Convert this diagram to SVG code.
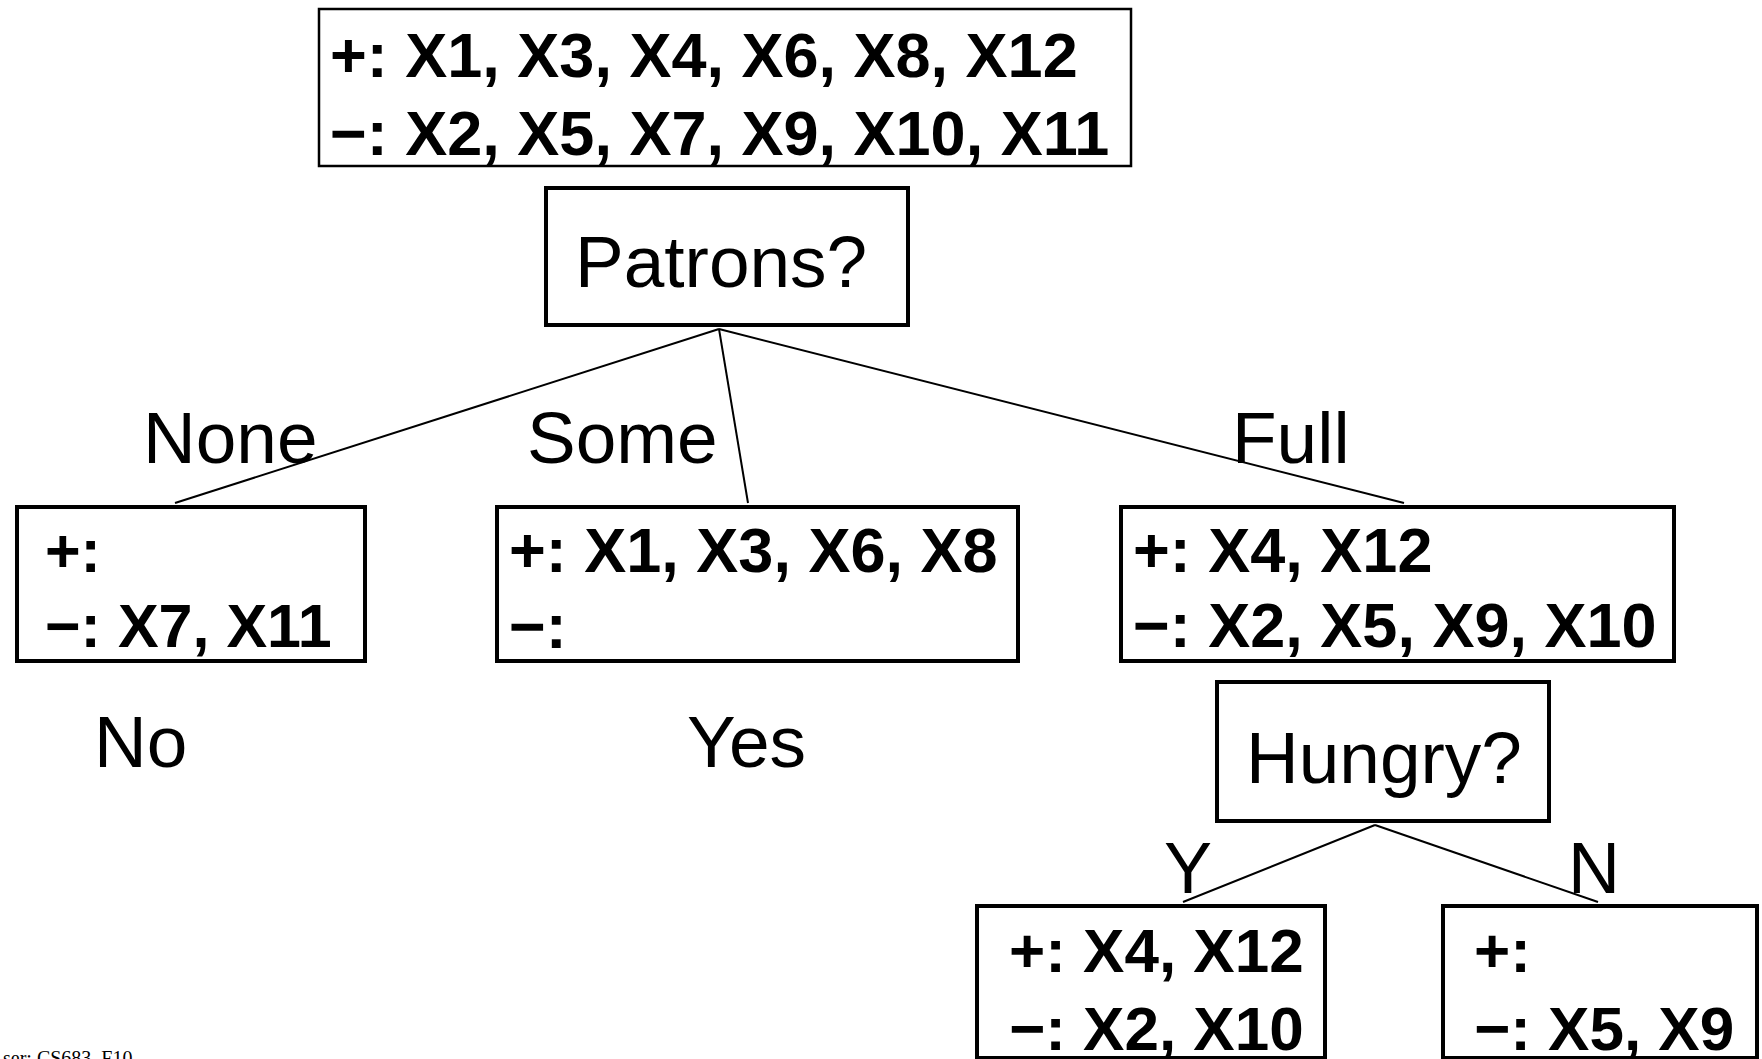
<svg xmlns="http://www.w3.org/2000/svg" width="1762" height="1059" viewBox="0 0 1762 1059">
<style>
.box{fill:#fff;stroke:#000;stroke-width:4}
.thin{stroke-width:2.5}
.set{font-family:"Liberation Sans",Arial,sans-serif;font-weight:bold;fill:#000}
.lbl{font-family:"Liberation Sans",Arial,sans-serif;fill:#000}
.edge{stroke:#000;stroke-width:2;fill:none}
</style>
<rect width="1762" height="1059" fill="#fff"/>
<g id="connectors">
<line class="edge" x1="719" y1="329" x2="175" y2="503"/>
<line class="edge" x1="719" y1="329" x2="748" y2="503"/>
<line class="edge" x1="719" y1="329" x2="1404" y2="503"/>
<line class="edge" x1="1375" y1="825" x2="1183" y2="902"/>
<line class="edge" x1="1375" y1="825" x2="1598" y2="902"/>
</g>
<g id="root">
<rect class="box thin" x="319" y="9" width="812" height="157"/>
<text class="set" x="330" y="77" font-size="63">+: X1, X3, X4, X6, X8, X12</text>
<text class="set" x="330" y="155" font-size="63">−: X2, X5, X7, X9, X10, X11</text>
</g>
<g id="patrons">
<rect class="box" x="546" y="188" width="362" height="137"/>
<text class="lbl" x="575" y="287" font-size="73">Patrons?</text>
</g>
<g id="none">
<rect class="box" x="17" y="507" width="348" height="154"/>
<text class="set" x="45" y="572" font-size="61">+:</text>
<text class="set" x="45" y="647" font-size="61">−: X7, X11</text>
</g>
<g id="some">
<rect class="box" x="497" y="507" width="521" height="154"/>
<text class="set" x="509" y="572" font-size="63">+: X1, X3, X6, X8</text>
<text class="set" x="509" y="648" font-size="63">−:</text>
</g>
<g id="full">
<rect class="box" x="1121" y="507" width="553" height="154"/>
<text class="set" x="1133" y="572" font-size="63">+: X4, X12</text>
<text class="set" x="1133" y="647" font-size="63">−: X2, X5, X9, X10</text>
</g>
<g id="hungry">
<rect class="box" x="1217" y="682" width="332" height="139"/>
<text class="lbl" x="1246" y="783" font-size="73">Hungry?</text>
</g>
<g id="hy">
<rect class="box" x="977" y="906" width="348" height="152"/>
<text class="set" x="1009" y="972" font-size="62">+: X4, X12</text>
<text class="set" x="1009" y="1050" font-size="62">−: X2, X10</text>
</g>
<g id="hn">
<rect class="box" x="1443" y="906" width="314" height="152"/>
<text class="set" x="1474" y="972" font-size="62">+:</text>
<text class="set" x="1474" y="1050" font-size="62">−: X5, X9</text>
</g>
<g id="labels">
<text class="lbl" x="143" y="463" font-size="73">None</text>
<text class="lbl" x="527" y="463" font-size="73">Some</text>
<text class="lbl" x="1232" y="463" font-size="73">Full</text>
<text class="lbl" x="1164" y="893" font-size="72">Y</text>
<text class="lbl" x="1568" y="893" font-size="72">N</text>
<text class="lbl" x="94" y="767" font-size="73">No</text>
<text class="lbl" x="687" y="767" font-size="73">Yes</text>
</g>
<text x="3" y="1065" font-family="'Liberation Serif','Times New Roman',serif" font-size="20" fill="#000">ser: CS683, F10</text>
</svg>
